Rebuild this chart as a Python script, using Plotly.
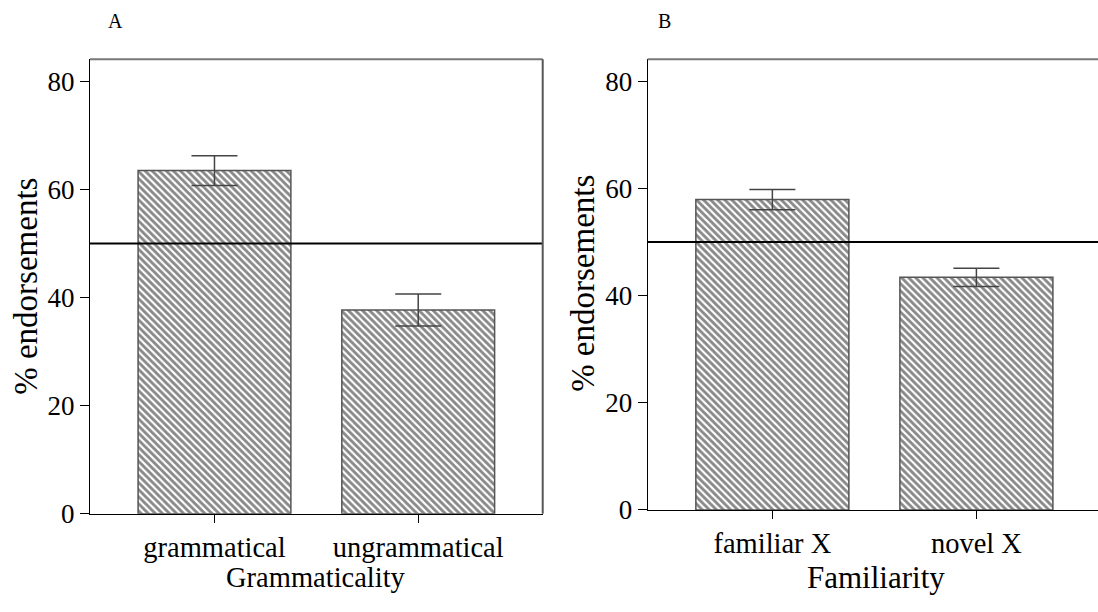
import plotly.graph_objects as go

# ---- data ----
categories_a = ["grammatical", "ungrammatical"]
means_a = [63.5, 37.7]
errors_a = [2.75, 2.95]

categories_b = ["familiar X", "novel X"]
means_b = [57.9, 43.4]
errors_b = [1.9, 1.7]

chance_level = 50
y_ticks = [0, 20, 40, 60, 80]
panel_labels = ["A", "B"]
x_titles = ["Grammaticality", "Familiarity"]
y_title = "% endorsements"

FONT = "Liberation Serif"
W, H = 1098, 612


def fx(px):
    return px / W


def fy(py):
    return 1 - py / H


fig = go.Figure()


def bar_trace(cats, vals, errs, xa, ya):
    return go.Bar(
        x=cats, y=vals, xaxis=xa, yaxis=ya, width=0.75,
        marker=dict(
            color="white",
            line=dict(color="#555555", width=1.5),
            pattern=dict(shape="\\", size=5, solidity=0.58,
                         fgcolor="#111111", bgcolor="white"),
        ),
        error_y=dict(type="data", array=errs, visible=True,
                     color="#444444", thickness=1.5, width=23),
        showlegend=False,
    )


fig.add_trace(bar_trace(categories_a, means_a, errors_a, "x", "y"))
fig.add_trace(bar_trace(categories_b, means_b, errors_b, "x2", "y2"))

ax_dom = [fx(90), fx(542.7)]
bx_dom = [fx(647.7), 1.0]
ay_dom = [fy(526.7), fy(60.7)]
by_dom = [fy(522.7), fy(60.7)]

common_x = dict(
    type="category", showgrid=False, zeroline=False,
    showline=True, linecolor="black", linewidth=1.3,
    ticks="outside", ticklen=8, tickcolor="black", tickwidth=1.3,
    tickfont=dict(family=FONT, size=28.5, color="black"),
)
common_y = dict(
    range=[0, 84.1], tickvals=y_ticks, showgrid=False, zeroline=False,
    showline=True, linecolor="black", linewidth=1.3,
    ticks="outside", ticklen=9, tickcolor="black", tickwidth=1.3,
    tickfont=dict(family=FONT, size=27, color="black"),
)

fig.update_layout(
    width=W, height=H,
    margin=dict(l=0, r=0, t=0, b=0),
    paper_bgcolor="white", plot_bgcolor="white",
    xaxis=dict(domain=ax_dom, anchor="y", range=[-0.611, 1.611], **common_x),
    yaxis=dict(domain=ay_dom, anchor="x", **common_y),
    xaxis2=dict(domain=bx_dom, anchor="y2", range=[-0.611, 1.596], **common_x),
    yaxis2=dict(domain=by_dom, anchor="x2", **common_y),
)

shapes = []
for xr, yr in (("x", "y"), ("x2", "y2")):
    # chance line
    shapes.append(dict(type="line", xref=f"{xr} domain", yref=yr,
                       x0=0, x1=1, y0=chance_level, y1=chance_level,
                       line=dict(color="black", width=2), layer="above"))
    # top frame
    shapes.append(dict(type="line", xref=f"{xr} domain", yref=f"{yr} domain",
                       x0=0, x1=1, y0=1, y1=1,
                       line=dict(color="#777777", width=2), layer="above"))
# right frame of panel A
shapes.append(dict(type="line", xref="x domain", yref="y domain",
                   x0=1, x1=1, y0=0, y1=1,
                   line=dict(color="#555555", width=2), layer="above"))
fig.update_layout(shapes=shapes)


def ann(text, px, py, size, angle=0):
    return dict(text=text, x=fx(px), y=fy(py), xref="paper", yref="paper",
                xanchor="center", yanchor="middle", textangle=angle,
                showarrow=False, font=dict(family=FONT, size=size, color="black"))


annotations = [
    ann(panel_labels[0], 115, 22, 20),
    ann(panel_labels[1], 664, 22, 20),
    ann(x_titles[0], 316, 592, 28.5),
    ann(x_titles[1], 876, 592, 31),
    ann(y_title, 26, 294, 33, -90),
    ann(y_title, 583, 291, 33, -90),
]
fig.update_layout(annotations=annotations)

fig.write_html("out.html", config={"displayModeBar": False},
               post_script="document.body.style.margin='0';")
